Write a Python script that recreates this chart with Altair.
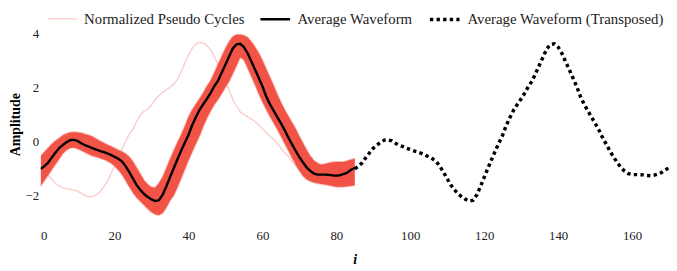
import altair as alt
import pandas as pd

# ---- data ----
mean_wave = [-1.02, -0.92, -0.79, -0.60, -0.42, -0.25, -0.13, -0.03, 0.05, 0.06,
             0.02, -0.07, -0.14, -0.19, -0.25, -0.30, -0.35, -0.39, -0.44, -0.50,
             -0.57, -0.64, -0.74, -0.92, -1.14, -1.38, -1.62, -1.80, -1.95, -2.06,
             -2.15, -2.21, -2.18, -1.98, -1.67, -1.33, -1.00, -0.67, -0.35, -0.05,
             0.24, 0.60, 0.90, 1.17, 1.38, 1.58, 1.80, 2.05, 2.25, 2.55,
             2.85, 3.15, 3.45, 3.60, 3.62, 3.50, 3.27, 2.97, 2.67, 2.36,
             2.05, 1.68, 1.39, 1.15, 0.91, 0.68, 0.43, 0.15, -0.10, -0.35,
             -0.58, -0.78, -0.97, -1.10, -1.19, -1.23, -1.23, -1.23, -1.24, -1.26,
             -1.27, -1.25, -1.21, -1.15, -1.05, -0.98]

band_upper = [-0.55, -0.40, -0.25, -0.10, 0.02, 0.12, 0.22, 0.29, 0.33, 0.34,
              0.33, 0.31, 0.27, 0.23, 0.18, 0.10, 0.02, -0.05, -0.12, -0.18,
              -0.25, -0.32, -0.38, -0.46, -0.58, -0.75, -0.98, -1.22, -1.45, -1.60,
              -1.70, -1.72, -1.55, -1.33, -1.00, -0.67, -0.35, -0.05, 0.24, 0.55,
              0.90, 1.17, 1.38, 1.58, 1.80, 2.05, 2.25, 2.55, 2.85, 3.15,
              3.45, 3.70, 3.88, 3.96, 3.96, 3.93, 3.85, 3.70, 3.50, 3.28,
              3.00, 2.70, 2.39, 2.08, 1.75, 1.45, 1.18, 0.93, 0.70, 0.46,
              0.18, -0.07, -0.33, -0.55, -0.72, -0.82, -0.86, -0.84, -0.80, -0.77,
              -0.76, -0.76, -0.76, -0.72, -0.68, -0.64]

band_lower = [-1.65, -1.45, -1.25, -1.05, -0.85, -0.65, -0.45, -0.32, -0.24, -0.22,
              -0.27, -0.33, -0.40, -0.47, -0.53, -0.57, -0.61, -0.66, -0.72, -0.80,
              -0.90, -1.05, -1.22, -1.45, -1.68, -1.90, -2.08, -2.22, -2.36, -2.50,
              -2.62, -2.70, -2.73, -2.65, -2.45, -2.19, -2.00, -1.70, -1.37, -1.03,
              -0.70, -0.38, -0.08, 0.21, 0.56, 0.87, 1.14, 1.37, 1.56, 1.78,
              2.02, 2.23, 2.52, 2.82, 3.12, 3.03, 2.73, 2.42, 2.11, 1.78,
              1.48, 1.20, 0.94, 0.70, 0.46, 0.20, -0.07, -0.33, -0.60, -0.85,
              -1.08, -1.28, -1.40, -1.48, -1.52, -1.55, -1.58, -1.60, -1.62, -1.65,
              -1.68, -1.68, -1.68, -1.66, -1.64, -1.62]

outlier_cycle = [-1.00, -1.10, -1.25, -1.40, -1.55, -1.65, -1.72, -1.76, -1.78, -1.80,
                 -1.84, -1.92, -2.00, -2.05, -2.04, -1.98, -1.88, -1.70, -1.50, -1.20,
                 -0.90, -0.60, -0.30, 0.00, 0.28, 0.45, 0.75, 1.00, 1.12, 1.20,
                 1.35, 1.55, 1.70, 1.82, 1.92, 2.00, 2.12, 2.30, 2.58, 2.90,
                 3.20, 3.45, 3.60, 3.67, 3.65, 3.55, 3.40, 3.15, 2.85, 2.50,
                 2.20, 1.90, 1.55, 1.30, 1.10, 1.00, 0.92, 0.83, 0.74, 0.60,
                 0.48, 0.33, 0.20, 0.08, -0.06, -0.25, -0.42, -0.55, -0.75, -0.90,
                 -1.05, -1.20, -1.27, -1.30, -1.32, -1.35, -1.40, -1.45, -1.50, -1.50,
                 -1.50, -1.48, -1.45, -1.40, -1.35, -1.30]

series_names = ["Normalized Pseudo Cycles", "Average Waveform",
                "Average Waveform (Transposed)"]
series_colors = ["#f9cac6", "#000000", "#000000"]
series_dashes = [[1, 0], [1, 0], [3.4, 3.3]]
series_widths = [1.3, 3.5, 3.4]
x_ticks = [0, 20, 40, 60, 80, 100, 120, 140, 160]
y_ticks = [-2, 0, 2, 4]
x_domain = [0, 170]
y_domain = [-3.06, 4.34]
transpose_shift = 85

idx = list(range(len(mean_wave)))
band_df = pd.DataFrame({"i": idx, "upper": band_upper, "lower": band_lower})
outlier_df = pd.DataFrame({"i": idx, "y": outlier_cycle, "series": series_names[0]})
mean_df = pd.concat([
    pd.DataFrame({"i": idx, "y": mean_wave, "series": series_names[1]}),
    pd.DataFrame({"i": [k + transpose_shift for k in idx], "y": mean_wave,
                  "series": series_names[2]}),
])

FONT = "Liberation Serif"
red = "#f04a3c"

x_enc = alt.X("i:Q", scale=alt.Scale(domain=x_domain, nice=False, zero=False),
              axis=alt.Axis(values=x_ticks, title="i", labelFont=FONT, titleFont=FONT,
                            labelFontSize=13, titleFontSize=14, titleFontStyle="italic",
                            titleFontWeight="bold", labelPadding=6, titlePadding=10))
y_scale = alt.Scale(domain=y_domain, nice=False, zero=False)
y_axis = alt.Axis(values=y_ticks, title="Amplitude", labelFont=FONT, titleFont=FONT,
                  labelFontSize=13, titleFontSize=14, titleFontWeight="bold",
                  labelPadding=2, titlePadding=3)

color_enc = alt.Color("series:N", scale=alt.Scale(domain=series_names, range=series_colors),
                      legend=alt.Legend(title=None))
dash_enc = alt.StrokeDash("series:N", scale=alt.Scale(domain=series_names, range=series_dashes),
                          legend=alt.Legend(title=None))
width_enc = alt.StrokeWidth("series:N", scale=alt.Scale(domain=series_names, range=series_widths),
                            legend=alt.Legend(title=None))

outlier_layer = alt.Chart(outlier_df).mark_line(clip=True).encode(
    x=x_enc, y=alt.Y("y:Q", scale=y_scale, axis=y_axis),
    color=color_enc, strokeDash=dash_enc, strokeWidth=width_enc,
)

band_layer = alt.Chart(band_df).mark_area(color=red, opacity=0.95, clip=True).encode(
    x=x_enc, y=alt.Y("lower:Q", scale=y_scale, axis=y_axis), y2="upper:Q",
)

band_edge_upper = alt.Chart(band_df).mark_line(color="#f37f73", strokeWidth=2, opacity=0.5, clip=True).encode(
    x=x_enc, y=alt.Y("upper:Q", scale=y_scale, axis=y_axis),
)
band_edge_lower = alt.Chart(band_df).mark_line(color="#f37f73", strokeWidth=2, opacity=0.5, clip=True).encode(
    x=x_enc, y=alt.Y("lower:Q", scale=y_scale, axis=y_axis),
)

mean_layer = alt.Chart(mean_df).mark_line(clip=True, strokeCap="butt").encode(
    x=x_enc, y=alt.Y("y:Q", scale=y_scale, axis=y_axis),
    color=color_enc, strokeDash=dash_enc, strokeWidth=width_enc,
    detail="series:N",
)

chart = alt.layer(outlier_layer, band_edge_upper, band_edge_lower, band_layer, mean_layer).properties(
    width=636, height=202,
    autosize=alt.AutoSizeParams(type="none"),
    padding={"left": 33, "top": 15, "right": 0, "bottom": 46},
).configure(font=FONT).configure_view(strokeWidth=0).configure_axis(
    domain=False, ticks=False, grid=False,
    labelFont=FONT, labelFontSize=13, labelColor="#222222",
    titleFont=FONT, titleFontSize=14, titleColor="#000000", titleFontWeight="bold",
).configure_legend(
    orient="none", legendX=6, legendY=-22, direction="horizontal",
    symbolType="stroke", symbolSize=900, labelFont=FONT, labelFontSize=15,
    labelColor="#222222", labelOffset=6, columnPadding=10, padding=0, labelLimit=400,
)

chart.save("out.html", embed_options={"renderer": "svg", "actions": False})
